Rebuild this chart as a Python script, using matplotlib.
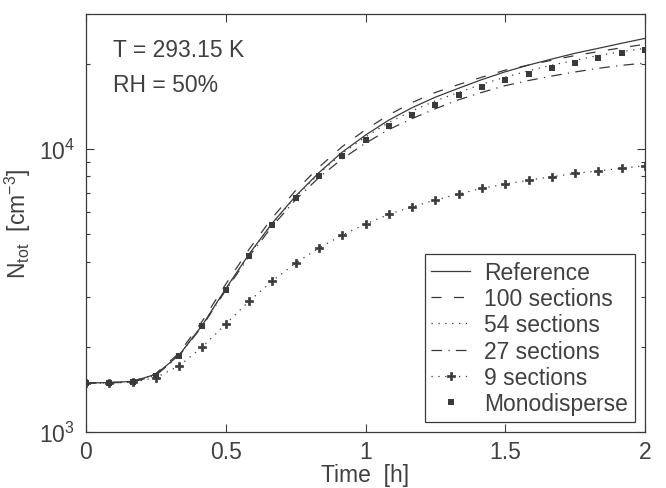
import numpy as np
import matplotlib
matplotlib.use("Agg")
import matplotlib.pyplot as plt

plt.rcParams["font.family"] = ["Liberation Sans", "DejaVu Sans"]
plt.rcParams["mathtext.fontset"] = "custom"
plt.rcParams["mathtext.rm"] = "Liberation Sans"
plt.rcParams["mathtext.it"] = "Liberation Sans:italic"
plt.rcParams["mathtext.bf"] = "Liberation Sans:bold"

# time grid of the simulations [h]
time_h = [0.0, 0.0833, 0.1667, 0.25, 0.3333, 0.4167, 0.5, 0.5833, 0.6667,
          0.75, 0.8333, 0.9167, 1.0, 1.0833, 1.1667, 1.25, 1.3333, 1.4167,
          1.5, 1.5833, 1.6667, 1.75, 1.8333, 1.9167, 2.0]

# total number concentration [cm^-3]
n_reference = [1490, 1495, 1510, 1600, 1870, 2390, 3210, 4250, 5480, 6820,
               8250, 9750, 11200, 12650, 14000, 15250, 16400, 17600, 18750,
               19800, 20800, 21800, 22700, 23650, 24600]
n_100 = [1490, 1495, 1510, 1610, 1900, 2470, 3330, 4420, 5720, 7130, 8620,
         10200, 11700, 13200, 14600, 15850, 16900, 17950, 19000, 19800,
         20600, 21400, 22100, 22800, 23450]
n_54 = [1490, 1495, 1505, 1595, 1870, 2390, 3200, 4230, 5450, 6780, 8180,
        9650, 11030, 12400, 13650, 14800, 15850, 16950, 17950, 18900, 19800,
        20600, 21400, 22100, 22700]
n_27 = [1490, 1492, 1500, 1585, 1860, 2370, 3170, 4170, 5340, 6620, 7930,
        9230, 10490, 11720, 12810, 13880, 14930, 15860, 16750, 17460, 18110,
        18720, 19290, 19760, 20130]
n_9 = [1490, 1492, 1500, 1556, 1714, 2000, 2407, 2897, 3420, 3954, 4467,
       4968, 5432, 5878, 6250, 6600, 6940, 7260, 7515, 7765, 7980, 8200,
       8370, 8550, 8730]
n_mono = [1490, 1492, 1500, 1580, 1850, 2360, 3180, 4200, 5390, 6690, 8050,
          9420, 10730, 12020, 13180, 14340, 15500, 16520, 17540, 18480, 19370,
          20190, 20970, 21790, 22440]

x_ticks = [0, 0.5, 1, 1.5, 2]
x_tick_labels = ["0", "0.5", "1", "1.5", "2"]

ink = "#3a3a3a"
text_color = "#404040"
fs = 16.5

fig = plt.figure(figsize=(6.66, 4.89), dpi=100)
ax = fig.add_axes([0.1291, 0.1145, 0.8394, 0.8548])

lw = 0.9
ax.plot(time_h, n_reference, color=ink, lw=lw, ls="-", label="Reference")
ax.plot(time_h, n_100, color=ink, lw=lw, dashes=(8, 10), label="100 sections")
ax.plot(time_h, n_54, color=ink, lw=lw, dashes=(1, 4.5), label="54 sections")
ax.plot(time_h, n_27, color=ink, lw=lw, dashes=(8.5, 5, 1, 5), label="27 sections")
ax.plot(time_h, n_9, color=ink, lw=lw, dashes=(1, 4.5), marker="P",
        markersize=6, markeredgewidth=0.5, markeredgecolor=ink,
        label="9 sections")
ax.plot(time_h, n_mono, color=ink, ls="none", marker="s", markersize=4.5,
        markeredgewidth=0, label="Monodisperse")

ax.set_yscale("log")
ax.set_xlim(0, 2)
ax.set_ylim(1000, 30000)
ax.set_xticks(x_ticks)
ax.set_xticklabels(x_tick_labels)

ax.tick_params(which="both", direction="in", top=True, right=True,
               color=ink, labelcolor=text_color, labelsize=fs)
ax.tick_params(which="major", length=6, width=0.8)
ax.tick_params(which="minor", length=3, width=0.8)
ax.tick_params(axis="x", pad=6)
ax.tick_params(axis="y", pad=8)
for spine in ax.spines.values():
    spine.set_color(ink)
    spine.set_linewidth(0.9)

ax.set_xlabel("Time  [h]", fontsize=fs, color=text_color, labelpad=0)
ax.set_ylabel(r"N$_{\mathrm{tot}}$  [cm$^{-3}$]", fontsize=fs,
              color=text_color, labelpad=4)

ax.text(0.048, 0.9426, "T = 293.15 K", transform=ax.transAxes, va="top",
        ha="left", fontsize=fs, color=text_color)
ax.text(0.048, 0.859, "RH = 50%", transform=ax.transAxes, va="top",
        ha="left", fontsize=fs, color=text_color)

leg = ax.legend(loc="lower right", bbox_to_anchor=(0.982, 0.024),
                borderaxespad=0, fontsize=fs, fancybox=False,
                handlelength=1.7, handletextpad=0.6, borderpad=0.3,
                labelspacing=0.14, framealpha=1)
leg.get_frame().set_edgecolor(ink)
leg.get_frame().set_linewidth(0.9)
for t in leg.get_texts():
    t.set_color(text_color)

fig.savefig("out.png", dpi=100)
